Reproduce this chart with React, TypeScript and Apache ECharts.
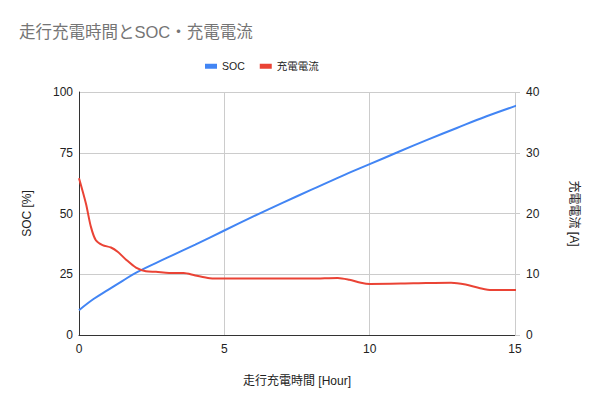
import React, { useEffect, useRef } from "react";
import * as echarts from "echarts";

const titleText = "走行充電時間とSOC・充電電流";
const seriesNames = ["SOC", "充電電流"];
const xAxisName = "走行充電時間 [Hour]";
const leftAxisName = "SOC [%]";
const rightAxisName = "充電電流 [A]";

const socTimes = [0, 0.5, 1, 1.5, 2, 3, 4, 5, 6, 7, 8, 9, 10, 11, 12, 13, 14, 15.2];
const socValues = [10.2, 14.8, 18.6, 22.3, 25.9, 31.6, 37.2, 43, 48.8, 54.4, 59.8, 65.2, 70.3, 75.4, 80.4, 85.2, 89.9, 95];

const currentTimes = [0, 0.24, 0.41, 0.58, 0.81, 1.1, 1.33, 1.62, 1.96, 2.3, 2.65, 3.1, 3.6, 4.0, 4.5, 5, 6, 8, 8.9, 9.3, 9.7, 10, 11.5, 12.8, 13.3, 13.8, 14.2, 15.2];
const currentValues = [25.8, 21.6, 17.8, 15.6, 14.8, 14.4, 13.7, 12.4, 11.1, 10.5, 10.4, 10.2, 10.2, 9.8, 9.35, 9.3, 9.3, 9.3, 9.4, 9.1, 8.6, 8.4, 8.5, 8.6, 8.3, 7.7, 7.4, 7.4];

const FONT = "'Liberation Sans', Arial, 'Noto Sans CJK JP', sans-serif";

export default function App() {
  const ref = useRef<HTMLDivElement>(null);
  useEffect(() => {
    document.body.style.margin = "0";
    if (!ref.current) return;
    const chart = echarts.init(ref.current, undefined, { renderer: "svg" });
    const soc = socTimes.map((t, i) => [t, socValues[i]]);
    const cur = currentTimes.map((t, i) => [t, currentValues[i]]);
    chart.setOption({
      animation: false,
      backgroundColor: "#ffffff",
      textStyle: { fontFamily: FONT },
      title: {
        text: titleText,
        left: 14,
        top: 19,
        textStyle: { fontFamily: FONT, fontSize: 16.5, fontWeight: "normal", color: "#757575" },
      },
      legend: {
        left: 200,
        top: 56,
        itemWidth: 12,
        itemHeight: 5,
        itemGap: 15,
        icon: "rect",
        textStyle: { fontFamily: FONT, fontSize: 10.5, color: "#222222" },
        data: seriesNames,
      },
      grid: { left: 79, right: 85, top: 92, bottom: 72, containLabel: false },
      xAxis: {
        type: "value",
        min: 0,
        max: 15,
        interval: 5,
        name: xAxisName,
        nameLocation: "middle",
        nameGap: 40,
        nameTextStyle: { fontFamily: FONT, fontSize: 12, color: "#222222" },
        axisLine: { show: true, lineStyle: { color: "#333333", width: 1 } },
        axisTick: { show: false },
        axisLabel: { margin: 8, fontSize: 12, color: "#222222", fontFamily: FONT },
        splitLine: { show: true, lineStyle: { color: "#cccccc", width: 1 } },
      },
      yAxis: [
        {
          type: "value",
          min: 0,
          max: 100,
          interval: 25,
          name: leftAxisName,
          nameLocation: "middle",
          nameGap: 46,
          nameTextStyle: { fontFamily: FONT, fontSize: 12, color: "#222222" },
          axisLine: { show: true, lineStyle: { color: "#333333", width: 1 } },
          axisTick: { show: false },
          axisLabel: { margin: 6, fontSize: 12, color: "#222222", fontFamily: FONT },
          splitLine: { show: true, lineStyle: { color: "#cccccc", width: 1 } },
        },
        {
          type: "value",
          min: 0,
          max: 40,
          interval: 10,
          position: "right",
          name: rightAxisName,
          nameLocation: "middle",
          nameGap: 53,
          nameRotate: -90,
          nameTextStyle: { fontFamily: FONT, fontSize: 12, color: "#222222" },
          axisLine: { show: false },
          axisTick: { show: true, length: 5, lineStyle: { color: "#cccccc" } },
          axisLabel: { margin: 11, fontSize: 12, color: "#222222", fontFamily: FONT },
          splitLine: { show: false },
        },
      ],
      series: [
        {
          name: seriesNames[0],
          type: "line",
          yAxisIndex: 0,
          data: soc,
          smooth: 0.4,
          showSymbol: false,
          symbol: "none",
          clip: false,
          lineStyle: { color: "#4285f4", width: 2 },
          itemStyle: { color: "#4285f4" },
        },
        {
          name: seriesNames[1],
          type: "line",
          yAxisIndex: 1,
          data: cur,
          smooth: 0.3,
          showSymbol: false,
          symbol: "none",
          clip: false,
          lineStyle: { color: "#ea4335", width: 2 },
          itemStyle: { color: "#ea4335" },
        },
      ],
    });
    return () => chart.dispose();
  }, []);
  return <div ref={ref} style={{ width: 600, height: 407 }} />;
}
